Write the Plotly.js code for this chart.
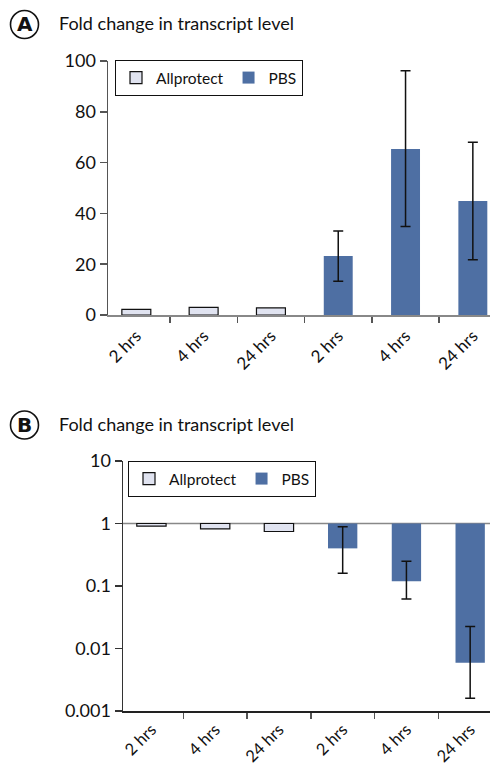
<!DOCTYPE html>
<html>
<head>
<meta charset="utf-8">
<script src="https://cdn.plot.ly/plotly-3.0.1.min.js"></script>
<style>html,body{margin:0;padding:0;background:#fff;}#chart{width:490px;height:766px;}</style>
</head>
<body>
<div id="chart"></div>
<script>
// ---- data ----
const categories = ["2 hrs", "4 hrs", "24 hrs", "2 hrs", "4 hrs", "24 hrs"];
const seriesNames = ["Allprotect", "PBS"];
// Panel A: fold change (linear)
const aAllprotect = [2.2, 3.0, 2.8, null, null, null];
const aPBS = [null, null, null, 23.2, 65.4, 44.9];
const aPBSerrHigh = [null, null, null, 33.1, 96.2, 68.0];
const aPBSerrLow = [null, null, null, 13.3, 34.8, 21.8];
// Panel B: fold change (log), bars hang from 1
const bAllprotect = [0.905, 0.82, 0.745, null, null, null];
const bPBS = [null, null, null, 0.40, 0.119, 0.0059];
const bPBSerrHigh = [null, null, null, 0.885, 0.248, 0.0225];
const bPBSerrLow = [null, null, null, 0.16, 0.062, 0.0016];
const aTickVals = [0, 20, 40, 60, 80, 100];
const bTickVals = [0.001, 0.01, 0.1, 1, 10];
const bTickText = ["0.001", "0.01", "0.1", "1", "10"];
const panelLetters = ["A", "B"];
const panelTitle = "Fold change in transcript level";

// ---- styling ----
const FONT = "Lato, 'Noto Sans', sans-serif";
const cLight = "#e0e3f0";
const cBlue = "#4e6fa3";
const xIdx = categories.map((_, i) => i);
const boundaries = xIdx.slice(0, -1).map(i => i + 0.5);
const W = 490, H = 766;
const px = v => v / W;
const py = v => 1 - v / H;

const errA = {
  type: "data", symmetric: false,
  array: aPBS.map((v, i) => v == null ? null : aPBSerrHigh[i] - v),
  arrayminus: aPBS.map((v, i) => v == null ? null : v - aPBSerrLow[i]),
  color: "#111", thickness: 1.5, width: 5
};
const errB = {
  type: "data", symmetric: false,
  array: bPBS.map((v, i) => v == null ? null : bPBSerrHigh[i] - v),
  arrayminus: bPBS.map((v, i) => v == null ? null : v - bPBSerrLow[i]),
  color: "#111", thickness: 1.5, width: 5
};

const traces = [
  { type: "bar", name: seriesNames[0], x: xIdx, y: aAllprotect, xaxis: "x", yaxis: "y",
    width: 0.43, marker: { color: cLight, line: { color: "#111", width: 1.2 } }, legend: "legend" },
  { type: "bar", name: seriesNames[1], x: xIdx, y: aPBS, xaxis: "x", yaxis: "y",
    width: 0.43, marker: { color: cBlue, line: { width: 0 } }, error_y: errA, legend: "legend" },
  { type: "bar", name: seriesNames[0], x: xIdx, y: bAllprotect.map(v => v == null ? null : v - 1), base: 1,
    xaxis: "x2", yaxis: "y2", width: 0.46,
    marker: { color: cLight, line: { color: "#111", width: 1.2 } }, legend: "legend2" },
  { type: "bar", name: seriesNames[1], x: xIdx, y: bPBS.map(v => v == null ? null : v - 1), base: 1,
    xaxis: "x2", yaxis: "y2", width: 0.46,
    marker: { color: cBlue, line: { width: 0 } }, error_y: errB, legend: "legend2" }
];

const tickFont = { family: FONT, size: 18, color: "#111" };
const xCommon = {
  tickmode: "array", tickvals: xIdx, ticktext: categories, tickangle: -45,
  ticks: "", showgrid: false, zeroline: false, showline: true, linewidth: 1.5,
  tickfont: { family: FONT, size: 17, color: "#111" },
  minor: { tickmode: "array", tickvals: boundaries, ticks: "outside", ticklen: 6, tickwidth: 1.5, tickcolor: "#555", showgrid: false },
  fixedrange: true
};

const layout = {
  width: W, height: H,
  margin: { l: 0, r: 0, t: 0, b: 0 },
  paper_bgcolor: "#fff", plot_bgcolor: "#fff",
  barmode: "overlay",
  showlegend: true,
  xaxis: Object.assign({}, xCommon, { domain: [px(108), 1], range: [-0.421, 5.255], anchor: "y", linecolor: "#888", ticklabelstandoff: 3 }),
  yaxis: { domain: [py(315), py(61)], range: [0, 100], tickmode: "array", tickvals: aTickVals,
    ticks: "outside", ticklen: 7, tickwidth: 1.5, tickcolor: "#555", showline: true, linecolor: "#555", linewidth: 1.5,
    showgrid: false, zeroline: false, tickfont: tickFont, anchor: "x", fixedrange: true },
  xaxis2: Object.assign({}, xCommon, { domain: [px(123), 1], range: [-0.446, 5.311], anchor: "y2", linecolor: "#222", ticklabelstandoff: 1,
    tickfont: { family: FONT, size: 16.5, color: "#111" } }),
  yaxis2: { domain: [py(711), py(461)], type: "log", range: [-3, 1], tickmode: "array", tickvals: bTickVals, ticktext: bTickText,
    ticks: "outside", ticklen: 7, tickwidth: 1.5, tickcolor: "#333", showline: true, linecolor: "#333", linewidth: 1.5,
    showgrid: false, zeroline: false, tickfont: tickFont, anchor: "x2", fixedrange: true },
  legend: { x: px(115), y: py(60), xanchor: "left", yanchor: "top", orientation: "h",
    bordercolor: "#111", borderwidth: 1, bgcolor: "#fff", font: { family: FONT, size: 15.5, color: "#111" }, itemwidth: 30 },
  legend2: { x: px(128), y: py(461), xanchor: "left", yanchor: "top", orientation: "h",
    bordercolor: "#111", borderwidth: 1, bgcolor: "#fff", font: { family: FONT, size: 15.5, color: "#111" }, itemwidth: 30 },
  shapes: [
    { type: "line", xref: "x2 domain", yref: "y2", x0: 0, x1: 1, y0: 1, y1: 1, line: { color: "#888", width: 1.5 }, layer: "below" },
    { type: "circle", xref: "paper", yref: "paper", x0: px(10.5), x1: px(38.5), y0: py(38.5), y1: py(10.5), line: { color: "#111", width: 1.6 } },
    { type: "circle", xref: "paper", yref: "paper", x0: px(10.5), x1: px(38.5), y0: py(439), y1: py(411), line: { color: "#111", width: 1.6 } }
  ],
  annotations: [
    { xref: "paper", yref: "paper", x: px(24.5), y: py(24.5), text: "<b>" + panelLetters[0] + "</b>", showarrow: false,
      xanchor: "center", yanchor: "middle", font: { family: "DejaVu Sans, sans-serif", size: 20, color: "#111" } },
    { xref: "paper", yref: "paper", x: px(24.5), y: py(425), text: "<b>" + panelLetters[1] + "</b>", showarrow: false,
      xanchor: "center", yanchor: "middle", font: { family: "DejaVu Sans, sans-serif", size: 20, color: "#111" } },
    { xref: "paper", yref: "paper", x: px(57), y: py(23), text: panelTitle, showarrow: false,
      xanchor: "left", yanchor: "middle", font: { family: FONT, size: 18, color: "#111" } },
    { xref: "paper", yref: "paper", x: px(57), y: py(424), text: panelTitle, showarrow: false,
      xanchor: "left", yanchor: "middle", font: { family: FONT, size: 18, color: "#111" } }
  ]
};

Plotly.newPlot("chart", traces, layout, { staticPlot: true, displayModeBar: false });
</script>
</body>
</html>
